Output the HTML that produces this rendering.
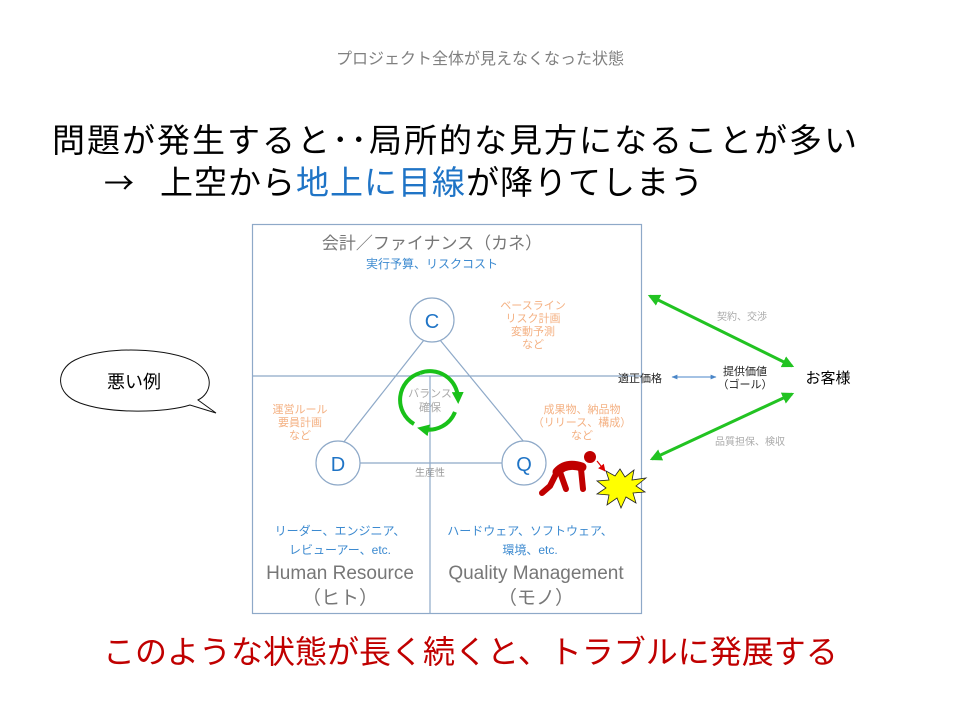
<!DOCTYPE html>
<html><head><meta charset="utf-8"><style>
html,body{margin:0;padding:0;background:#fff;}
body{width:960px;height:720px;overflow:hidden;position:relative;font-family:"Liberation Sans","Noto Sans CJK JP",sans-serif;}
svg{position:absolute;left:0;top:0;}
</style></head><body>
<svg width="960" height="720" viewBox="0 0 960 720" font-family="'Liberation Sans','Noto Sans CJK JP',sans-serif">
<defs>
<marker id="ga" viewBox="0 0 10 10" refX="8" refY="5" markerWidth="4" markerHeight="4" orient="auto-start-reverse"><path d="M0,0 L10,5 L0,10 z" fill="#22c322"/></marker>
<marker id="ba" viewBox="0 0 10 10" refX="9" refY="5" markerWidth="6" markerHeight="6" orient="auto-start-reverse"><path d="M0,1 L10,5 L0,9 z" fill="#4a86c8"/></marker>
<marker id="ra" viewBox="0 0 10 10" refX="9" refY="5" markerWidth="6" markerHeight="6" orient="auto"><path d="M0,0 L10,5 L0,10 z" fill="#d00"/></marker>
<marker id="gr" viewBox="0 0 10 10" refX="5" refY="5" markerWidth="3" markerHeight="3" orient="auto"><path d="M0,0 L10,5 L0,10 z" fill="#19c119"/></marker>
</defs>
<text x="480" y="64" font-size="16" fill="#808080" text-anchor="middle">プロジェクト全体が見えなくなった状態</text>
<text x="52" y="152" font-size="33" fill="#000" letter-spacing="2">問題が発生すると･･局所的な見方になることが多い</text>
<text x="104" y="194" font-size="30" fill="#000" font-family="'Noto Sans CJK JP',sans-serif">→</text>
<text x="160" y="194" font-size="33" fill="#000" letter-spacing="1">上空から<tspan fill="#1f74c6">地上に目線</tspan>が降りてしまう</text>

<!-- frame -->
<rect x="252.5" y="224.5" width="389" height="389" fill="none" stroke="#8ea9c8" stroke-width="1.2"/>
<line x1="252" y1="376" x2="641" y2="376" stroke="#8ea9c8" stroke-width="1.2"/>
<line x1="430" y1="376" x2="430" y2="613" stroke="#8ea9c8" stroke-width="1.2"/>
<!-- triangle -->
<line x1="424" y1="340" x2="343" y2="443" stroke="#8ea9c8" stroke-width="1.2"/>
<line x1="440" y1="340" x2="524" y2="442" stroke="#8ea9c8" stroke-width="1.2"/>
<line x1="360" y1="463" x2="502" y2="463" stroke="#8ea9c8" stroke-width="1.2"/>
<circle cx="432" cy="320" r="22" fill="#fff" stroke="#8ea9c8" stroke-width="1.2"/>
<circle cx="338" cy="463" r="22" fill="#fff" stroke="#8ea9c8" stroke-width="1.2"/>
<circle cx="524" cy="463" r="22" fill="#fff" stroke="#8ea9c8" stroke-width="1.2"/>
<text x="432" y="328" font-size="20" fill="#1f74c6" text-anchor="middle">C</text>
<text x="338" y="471" font-size="20" fill="#1f74c6" text-anchor="middle">D</text>
<text x="524" y="471" font-size="20" fill="#1f74c6" text-anchor="middle">Q</text>
<text x="430" y="476" font-size="10" fill="#999" text-anchor="middle">生産性</text>

<text x="432" y="249" font-size="17" fill="#777" text-anchor="middle">会計／ファイナンス（カネ）</text>
<text x="432" y="268" font-size="12" fill="#3c8ad0" text-anchor="middle">実行予算、リスクコスト</text>
<g font-size="11" fill="#f4b183" text-anchor="middle">
<text x="533" y="309">ベースライン</text><text x="533" y="322">リスク計画</text><text x="533" y="335">変動予測</text><text x="533" y="348">など</text>
<text x="300" y="413">運営ルール</text><text x="300" y="426">要員計画</text><text x="300" y="439">など</text>
<text x="582" y="413">成果物、納品物</text><text x="582" y="426">（リリース、構成）</text><text x="582" y="439">など</text>
</g>
<!-- green cycle -->
<path d="M420,373 A28,28 0 0 1 458,398" fill="none" stroke="#19c119" stroke-width="4" marker-end="url(#gr)"/>
<path d="M455,412 A28,28 0 0 1 423,429" fill="none" stroke="#19c119" stroke-width="4" marker-end="url(#gr)"/>
<path d="M414,424 A28,28 0 0 1 420,373" fill="none" stroke="#19c119" stroke-width="4"/>
<text x="430" y="397" font-size="11" fill="#aaa" text-anchor="middle">バランス</text>
<text x="430" y="411" font-size="11" fill="#aaa" text-anchor="middle">確保</text>

<g font-size="12" fill="#3c8ad0" text-anchor="middle">
<text x="340" y="535">リーダー、エンジニア、</text><text x="340" y="554">レビューアー、etc.</text>
<text x="530" y="535">ハードウェア、ソフトウェア、</text><text x="530" y="554">環境、etc.</text>
</g>
<g font-size="19" fill="#777" text-anchor="middle">
<text x="340" y="579">Human Resource</text><text x="340" y="604">（ヒト）</text>
<text x="536" y="579">Quality Management</text><text x="536" y="604">（モノ）</text>
</g>

<!-- right side -->
<line x1="650" y1="296" x2="792" y2="366" stroke="#22c322" stroke-width="3" marker-start="url(#ga)" marker-end="url(#ga)"/>
<line x1="652" y1="459" x2="792" y2="394" stroke="#22c322" stroke-width="3" marker-start="url(#ga)" marker-end="url(#ga)"/>
<text x="742" y="320" font-size="10" fill="#aaa" text-anchor="middle">契約、交渉</text>
<text x="750" y="445" font-size="10" fill="#aaa" text-anchor="middle">品質担保、検収</text>
<text x="640" y="382" font-size="11" fill="#222" text-anchor="middle">適正価格</text>
<line x1="672" y1="377" x2="716" y2="377" stroke="#4a86c8" stroke-width="1" marker-start="url(#ba)" marker-end="url(#ba)"/>
<text x="745" y="375" font-size="11" fill="#222" text-anchor="middle">提供価値</text>
<text x="745" y="388" font-size="11" fill="#222" text-anchor="middle">（ゴール）</text>
<text x="828" y="383" font-size="15" fill="#000" text-anchor="middle">お客様</text>

<!-- person -->
<circle cx="590" cy="457" r="6" fill="#c00000"/>
<path d="M557,472 Q566,462 582,467" fill="none" stroke="#c00000" stroke-width="9" stroke-linecap="round"/>
<path d="M581,469 L583,489" fill="none" stroke="#c00000" stroke-width="6" stroke-linecap="round"/>
<path d="M560,472 L566,489" fill="none" stroke="#c00000" stroke-width="6" stroke-linecap="round"/>
<path d="M556,474 L550,486 L542,493" fill="none" stroke="#c00000" stroke-width="6" stroke-linecap="round" stroke-linejoin="round"/>
<line x1="597" y1="461" x2="605" y2="471" stroke="#d00" stroke-width="1.2" marker-end="url(#ra)"/>
<polygon points="620,469 625,477 634,470 632,480 646,478 636,486 645,492 633,493 636,503 626,497 621,508 617,498 607,505 609,495 597,494 606,488 597,481 609,480 606,471 615,476" fill="#ffff00" stroke="#222" stroke-width="0.8"/>

<!-- speech bubble -->
<path d="M198,400 L216,413 L190,405 C165,413 110,414 80,403 C55,394 55,370 75,360 C105,345 170,348 195,362 C215,374 212,393 198,400 Z" fill="#fff" stroke="#111" stroke-width="1"/>
<text x="134" y="388" font-size="18" fill="#000" text-anchor="middle">悪い例</text>

<text x="103" y="663" font-size="32" fill="#c00000">このような状態が長く続くと、トラブルに発展する</text>
</svg>
</body></html>
